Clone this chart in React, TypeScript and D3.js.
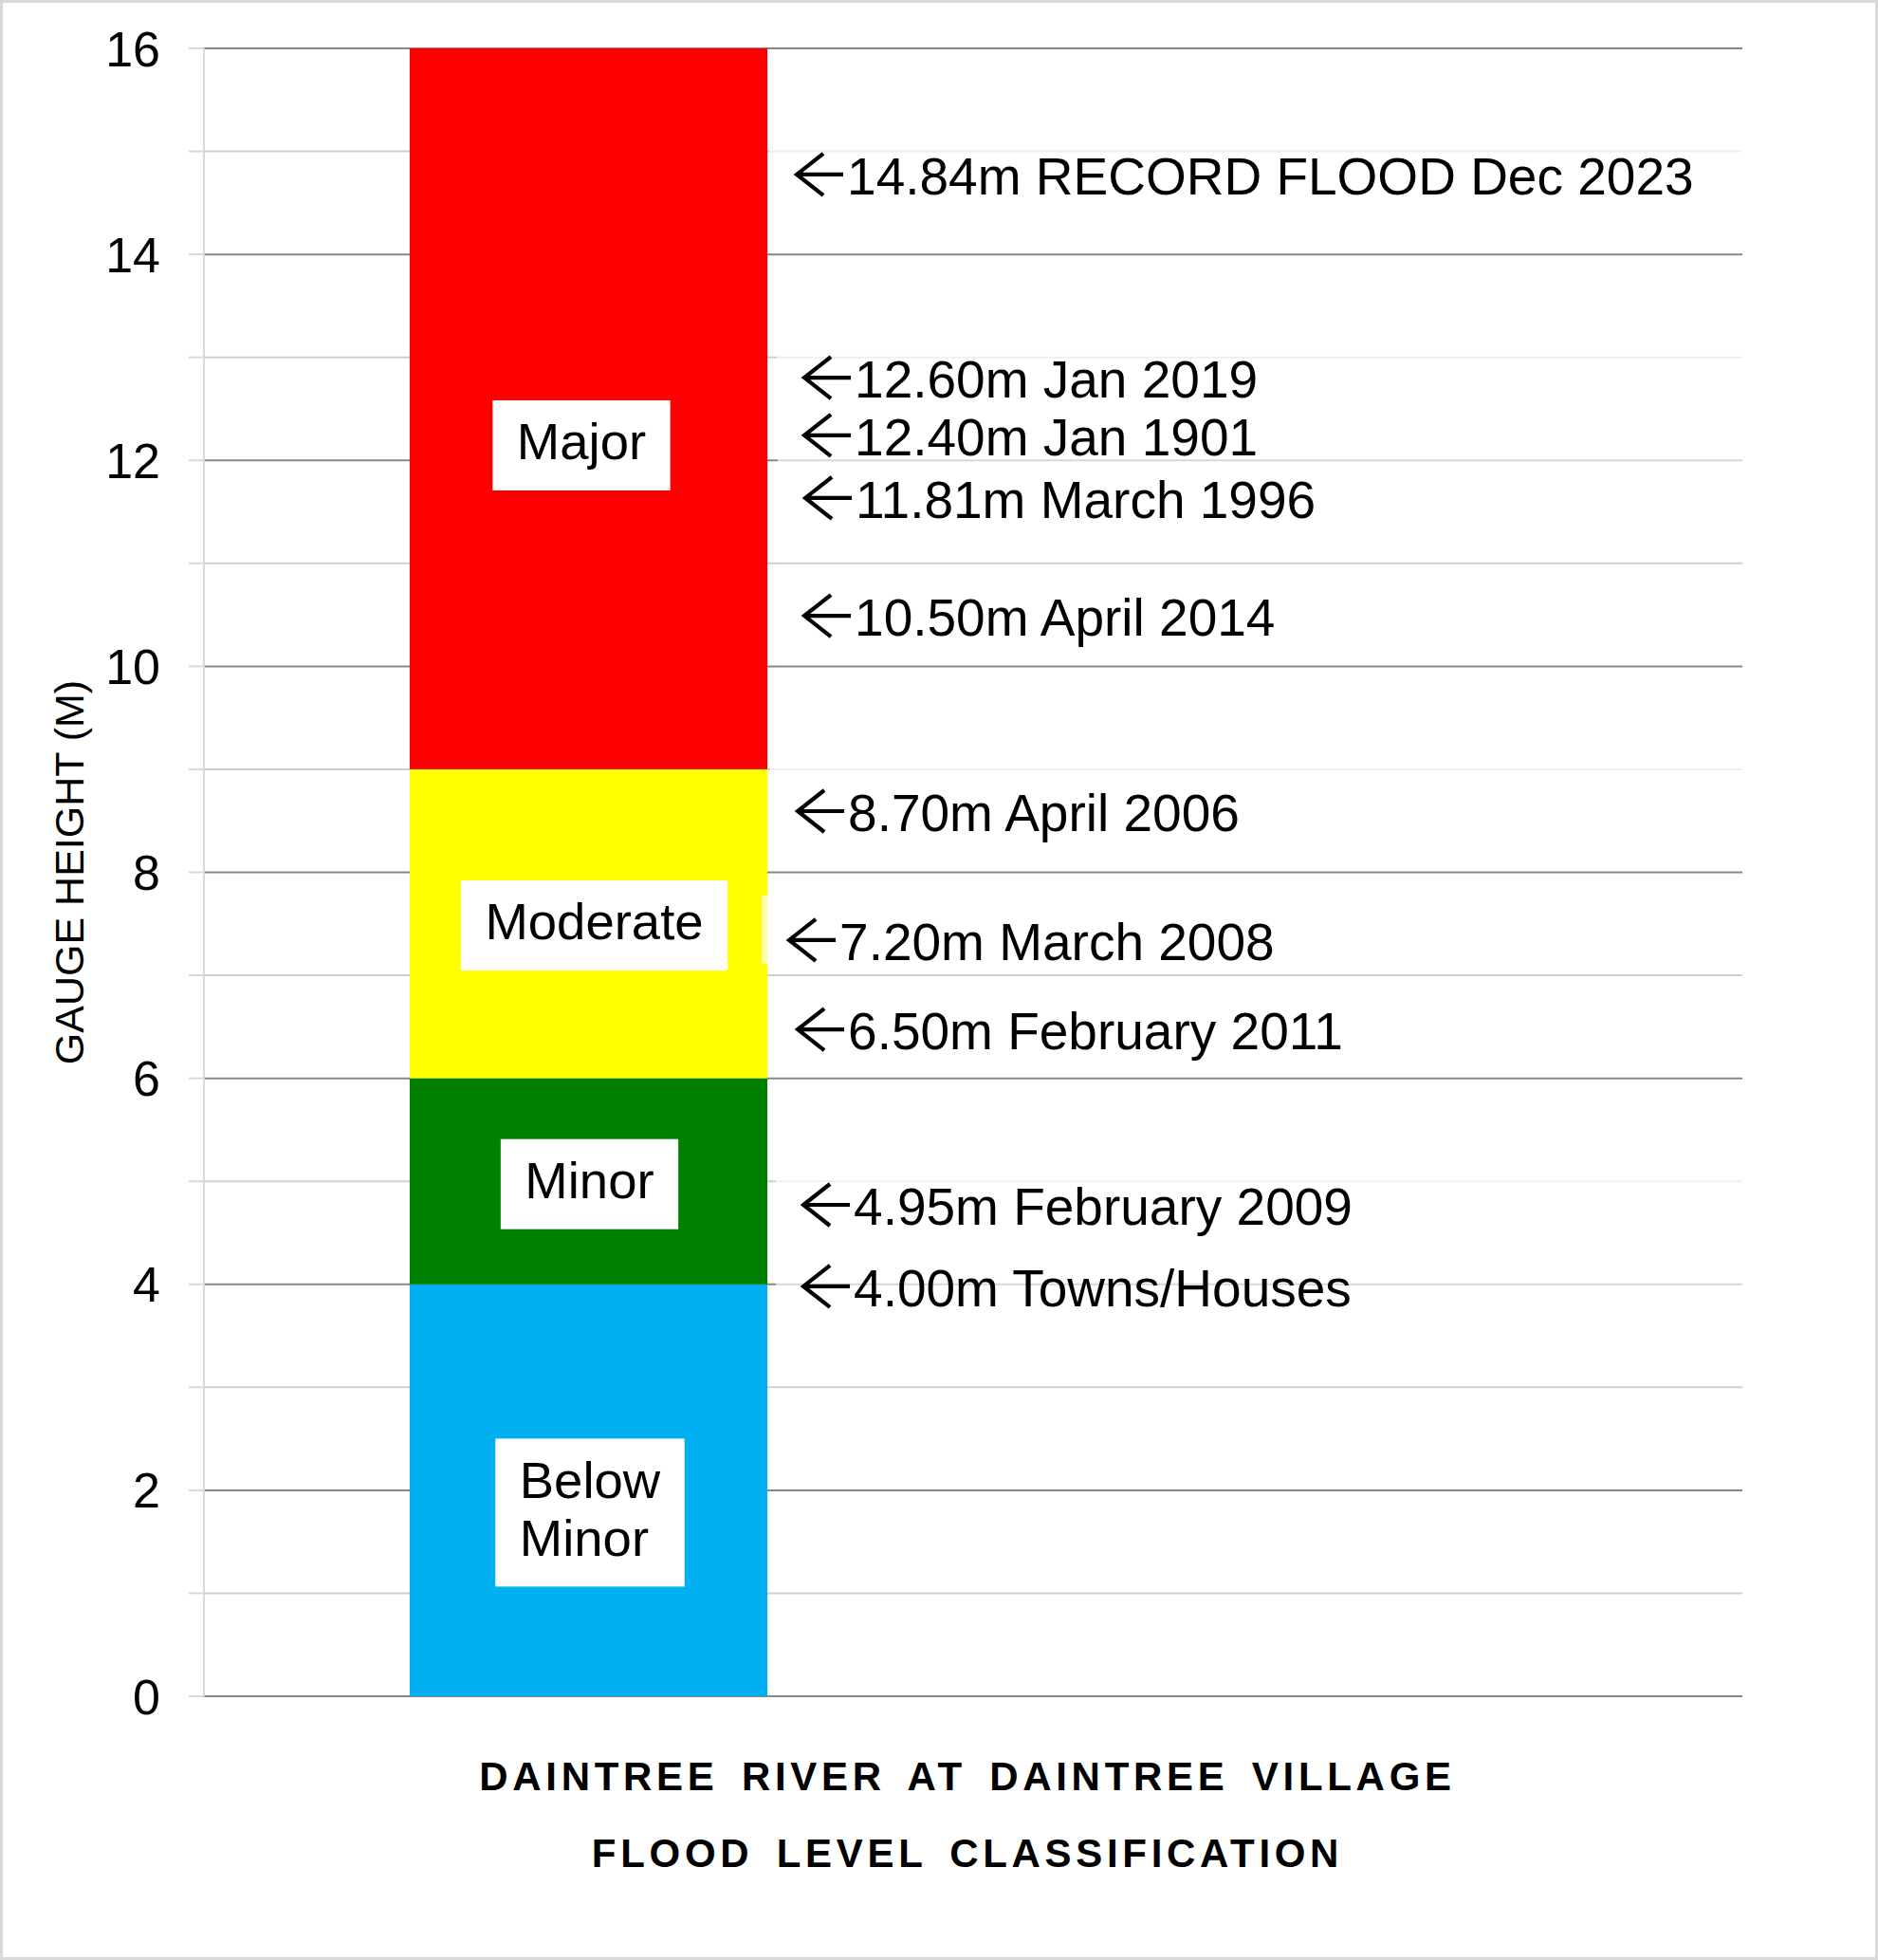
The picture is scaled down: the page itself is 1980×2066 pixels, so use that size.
import React from 'react';
import * as d3 from 'd3';

// ---------- data ----------
const categories = ["Daintree River at Daintree Village", ""];
const levelKeys = ["belowMinor", "minor", "moderate", "major"];
const levelLabels = [["Below", "Minor"], ["Minor"], ["Moderate"], ["Major"]];
const levelHeights = [4, 2, 3, 7]; // metres in each classification band
const levelColors = ["#00B0F0", "#008000", "#FFFF00", "#FF0000"];
const yTickValues = [0, 2, 4, 6, 8, 10, 12, 14, 16];
const floodValues = [14.84, 12.6, 12.4, 11.81, 10.5, 8.7, 7.2, 6.5, 4.95, 4.0];
const floodLabels = [
  "14.84m RECORD FLOOD Dec 2023",
  "12.60m Jan 2019",
  "12.40m Jan 1901",
  "11.81m March 1996",
  "10.50m April 2014",
  "8.70m April 2006",
  "7.20m March 2008",
  "6.50m February 2011",
  "4.95m February 2009",
  "4.00m Towns/Houses",
];
const titleLines = ["DAINTREE RIVER AT DAINTREE VILLAGE", "FLOOD LEVEL CLASSIFICATION"];
const yAxisTitle = "GAUGE HEIGHT (M)";

// ---------- layout ----------
const W = 1980;
const H = 2066;
const PLOT = { left: 215, right: 1837, top: 51, bottom: 1788 };
const FONT = "'Liberation Sans', Arial, sans-serif";
const annDx = [26, 34, 34, 35, 34, 27, 18, 27, 33, 33];
const annDy = [28, -1, 38, 40, 22, 32.5, 5.6, 23.7, 40.4, 23.2];
const bandLabelDx = [1.5, 1, 6, -7.5];
const bandLabelDy = [23.5, 3, 1.7, 38.5];

function measure(text: string, font: string): number {
  const c = document.createElement('canvas');
  const ctx = c.getContext('2d');
  if (!ctx) return text.length * 28;
  ctx.font = font;
  return ctx.measureText(text).width;
}

function arrowPath(tx: number, baseline: number): string {
  const tip = tx + 5;
  const cy = baseline - 21;
  const p = d3.path();
  p.moveTo(tip + 49, cy);
  p.lineTo(tip + 1, cy);
  p.moveTo(tip + 28, cy - 22);
  p.lineTo(tip, cy);
  p.lineTo(tip + 28, cy + 22);
  return p.toString();
}

export default function App() {
  const y = d3.scaleLinear().domain([0, 16]).range([PLOT.bottom, PLOT.top]);
  const x = d3
    .scaleBand<string>()
    .domain(categories)
    .range([PLOT.left, PLOT.right])
    .paddingInner(0.535)
    .paddingOuter(0.2675);

  const row: Record<string, number | string> = { cat: categories[0] };
  levelKeys.forEach((k, i) => (row[k] = levelHeights[i]));
  const stack = d3.stack<any>().keys(levelKeys)([row]);

  const barX = x(categories[0]) as number;
  const barW = x.bandwidth();
  const barRight = barX + barW;
  const barCenter = barX + barW / 2;

  const gridVals = y.ticks(16);
  const annFont = 55;
  const bandFont = 54.5;
  const labelFontCss = `${bandFont}px 'Liberation Sans', Arial, sans-serif`;

  return (
    <svg
      width={W}
      height={H}
      viewBox={`0 0 ${W} ${H}`}
      style={{ position: 'absolute', left: 0, top: 0, display: 'block', background: '#fff' }}
      fontFamily={FONT}
    >
      <rect x={0} y={0} width={W} height={H} fill="#fff" />

      {/* gridlines */}
      {gridVals.map((v) => {
        const major = v % 2 === 0;
        return (
          <g key={`g${v}`}>
            <line x1={PLOT.left - 16} x2={PLOT.left} y1={y(v)} y2={y(v)} stroke="#d9d9d9" strokeWidth={2} />
            <line
              x1={PLOT.left}
              x2={PLOT.right}
              y1={y(v)}
              y2={y(v)}
              stroke={major ? '#878787' : '#cfcfcf'}
              strokeWidth={2}
            />
          </g>
        );
      })}
      <line x1={PLOT.left} x2={PLOT.left} y1={PLOT.top} y2={PLOT.bottom} stroke="#d9d9d9" strokeWidth={2} />

      {/* stacked bar */}
      {stack.map((s, i) => (
        <rect
          key={s.key}
          x={barX}
          width={barW}
          y={y(s[0][1])}
          height={y(s[0][0]) - y(s[0][1])}
          fill={levelColors[i]}
        />
      ))}

      {/* annotation text boxes (semi-transparent white) */}
      {floodValues.map((v, i) => {
        const tx = barRight + annDx[i];
        const by = y(v) + annDy[i];
        return (
          <rect
            key={`ab${i}`}
            x={tx - 24}
            y={by - 68}
            width={PLOT.right - (tx - 24)}
            height={72}
            fill="#fff"
            fillOpacity={0.67}
          />
        );
      })}

      {/* annotation arrows + texts */}
      {floodValues.map((v, i) => {
        const tx = barRight + annDx[i];
        const by = y(v) + annDy[i];
        return (
          <g key={`at${i}`}>
            <path d={arrowPath(tx, by)} fill="none" stroke="#000" strokeWidth={4.2} strokeLinejoin="miter" />
            <text x={tx + 58} y={by} fontSize={annFont} fill="#000">
              {floodLabels[i]}
            </text>
          </g>
        );
      })}

      {/* band labels */}
      {stack.map((s, i) => {
        const lines = levelLabels[i];
        const mid = (s[0][0] + s[0][1]) / 2;
        const cy = y(mid) + bandLabelDy[i];
        const cx = barCenter + bandLabelDx[i];
        const maxW = d3.max(lines, (l) => measure(l, labelFontCss)) as number;
        const bw = maxW + 51;
        const bh = lines.length * 61 + 34;
        return (
          <g key={`bl${i}`}>
            <rect x={cx - bw / 2} y={cy - bh / 2} width={bw} height={bh} fill="#fff" />
            {lines.map((l, j) => (
              <text
                key={j}
                x={cx - bw / 2 + 25.5}
                y={cy + 15 + (j - (lines.length - 1) / 2) * 61}
                fontSize={bandFont}
                fill="#000"
              >
                {l}
              </text>
            ))}
          </g>
        );
      })}

      {/* y tick labels */}
      {yTickValues.map((v) => (
        <text key={`t${v}`} x={169} y={y(v) + 18.6} fontSize={52} textAnchor="end" fill="#000">
          {v}
        </text>
      ))}

      {/* y axis title */}
      <text
        transform={`translate(88, ${(PLOT.top + PLOT.bottom) / 2}) rotate(-90)`}
        textAnchor="middle"
        fontSize={43}
        fill="#000"
      >
        {yAxisTitle}
      </text>

      {/* chart title */}
      {titleLines.map((t, i) => (
        <text
          key={`ti${i}`}
          x={1020}
          y={1887 + i * 81}
          textAnchor="middle"
          fontSize={42}
          fontWeight="bold"
          letterSpacing={4.7}
          wordSpacing={8}
          fill="#000"
        >
          {t}
        </text>
      ))}

      {/* outer border */}
      <rect x={1.5} y={1.5} width={W - 3} height={H - 3} fill="none" stroke="#d9d9d9" strokeWidth={3} />
    </svg>
  );
}
